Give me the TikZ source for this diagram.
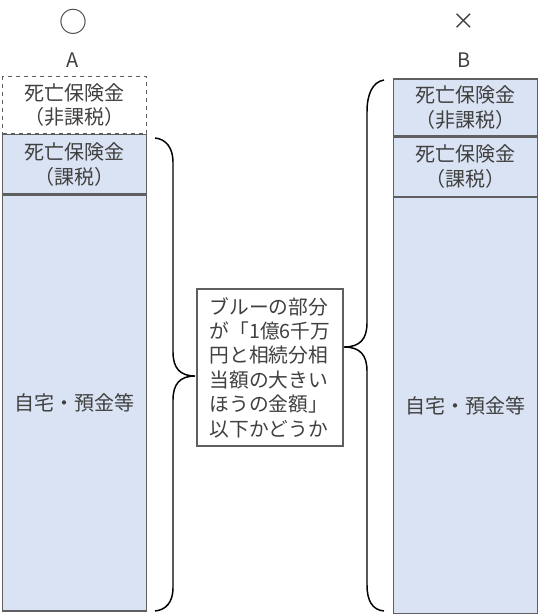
\documentclass[tikz,border=0pt]{standalone}
\usepackage{fontspec}
\setmainfont{Noto Sans CJK JP}
\usepackage{xcolor}
\usetikzlibrary{positioning}
\definecolor{boxblue}{HTML}{DAE3F3}
\definecolor{edgegray}{HTML}{5F5F5F}
\definecolor{txtgray}{HTML}{404040}

\begin{document}
\begin{tikzpicture}[x=0.75pt, y=-0.75pt,
    part/.style={rectangle, draw=edgegray, solid, line width=0.9pt, fill=boxblue, minimum width=108pt, inner sep=0pt, align=center, text=txtgray, font=\fontsize{15}{18.5}\selectfont},
    sign/.style={text=txtgray, inner sep=0pt, font=\fontsize{15}{18}\selectfont},
    note/.style={rectangle, draw=edgegray, line width=0.9pt, fill=white, minimum width=109.5pt, minimum height=117.75pt, align=left, text=txtgray, font=\fontsize{14.8}{18.3}\selectfont},
    brace/.style={draw=black, line width=1.1pt}
]
\useasboundingbox (0,0) rectangle (540,614);

% left column (A)
\node[sign, font=\fontsize{21}{21}\selectfont] (okA) at (73,22) {○};
\node[sign] (labA) at (73,60) {A};
\node[part, minimum height=312pt] (a3) at (74.5,403) {自宅・預金等};
\node[part, minimum height=44.25pt, above=0pt of a3] (a2) {死亡保険金\\（課税）};
\node[part, dashed, fill=white, minimum height=42.75pt, above=0pt of a2] (a1) {死亡保険金\\（非課税）};
\draw[edgegray, line width=0.9pt] (a2.north west) -- (a2.north east);

% right column (B)
\node[sign, font=\fontsize{17}{17}\selectfont] (ngB) at (464,22) {×};
\node[sign] (labB) at (464,60) {B};
\node[part, minimum height=42.75pt] (b1) at (465.5,107.5) {死亡保険金\\（非課税）};
\node[part, minimum height=44.25pt, below=0pt of b1] (b2) {死亡保険金\\（課税）};
\node[part, minimum height=312pt, below=0pt of b2] (b3) {自宅・預金等};

% question in the middle
\node[note] (q) at (270,367.5) {ブルーの部分\\が「1億6千万\\円と相続分相\\当額の大きい\\ほうの金額」\\以下かどうか};

% braces
\draw[brace] (155,138) .. controls (166,139) and (173,148) .. (173,162)
    -- (173,352) .. controls (173,368) and (180,376) .. (195,376)
    .. controls (180,376) and (173,384) .. (173,400)
    -- (173,588) .. controls (173,602) and (166,610) .. (155,611);
\draw[brace] (384,80) .. controls (372,82) and (367,95) .. (367,112)
    -- (367,323) .. controls (367,339) and (360,347) .. (344,347)
    .. controls (360,347) and (367,355) .. (367,371)
    -- (367,585) .. controls (367,600) and (372,610) .. (384,611);
\end{tikzpicture}
\end{document}
